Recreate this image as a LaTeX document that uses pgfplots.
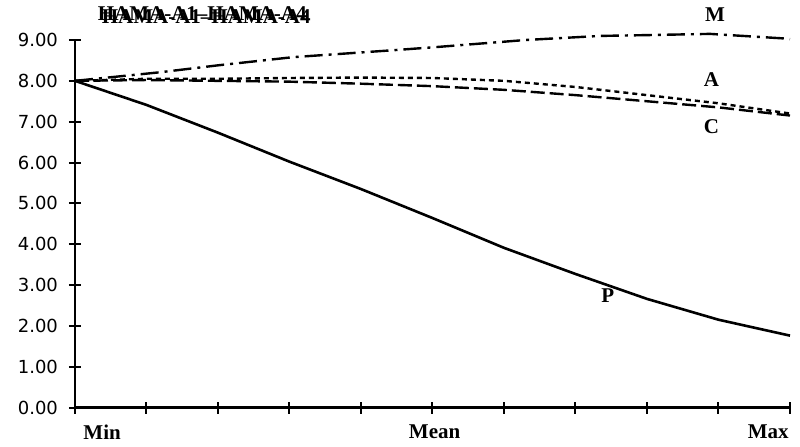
\documentclass[border=0pt]{standalone}
\usepackage{fontspec}
\setmainfont{Liberation Serif}
\newfontfamily\tickfont{DejaVu Sans}
\usepackage{pgfplots}
\pgfplotsset{compat=1.18}

\begin{document}
\begin{tikzpicture}
\begin{axis}[
  scale only axis,
  width=357.5pt, height=183.75pt,
  xmin=0, xmax=10, ymin=0, ymax=9,
  axis x line=bottom, axis y line=left,
  axis line style={-, line width=1.4pt},
  clip=false,
  xtick={0,1,...,10}, xticklabels={},
  ytick={0,1,...,9},
  tick align=center,
  major tick length=6pt,
  tick style={black, line width=1pt},
  /pgf/number format/assume math mode=true,
  yticklabel={\pgfmathprintnumber[fixed,fixed zerofill,precision=2]{\tick}},
  yticklabel style={font=\tickfont\fontsize{9}{10}\selectfont, anchor=east, xshift=-2pt},
]
\coordinate (o) at (axis cs:0,0);
% P
\addplot[black, line width=1.3pt] coordinates {
  (0,8.00)(1,7.41)(2,6.73)(3,6.02)(4,5.35)(5,4.64)
  (6,3.91)(7,3.27)(8,2.66)(9,2.15)(10,1.76)
};
% M
\addplot[black, line width=1.2pt, dash pattern=on 9pt off 3pt on 1.5pt off 3pt] coordinates {
  (0,8.00)(1.19,8.21)(2,8.38)(3.05,8.58)(4.45,8.75)(5,8.82)(6.3,9.00)
  (7.34,9.10)(8.0,9.12)(8.88,9.15)(9.9,9.04)(10,9.02)
};
% A
\addplot[black, line width=1.2pt, dash pattern=on 2.5pt off 2pt] coordinates {
  (0,8.00)(1,8.05)(2,8.05)(3,8.07)(4,8.08)(5,8.07)(6,8.00)
  (7,7.85)(8,7.65)(9,7.45)(10,7.20)
};
% C
\addplot[black, line width=1.2pt, dash pattern=on 7pt off 2.5pt] coordinates {
  (0,8.00)(1,8.02)(2,8.00)(3,7.98)(4,7.93)(5,7.87)(6,7.78)
  (7,7.65)(8,7.50)(9,7.35)(10,7.15)
};
\node[font=\bfseries\fontsize{10.5}{12}\selectfont] at (axis cs:8.95,9.62) {M};
\node[font=\bfseries\fontsize{10.5}{12}\selectfont] at (axis cs:8.9,8.03) {A};
\node[font=\bfseries\fontsize{10.5}{12}\selectfont] at (axis cs:8.9,6.88) {C};
\node[font=\bfseries\fontsize{10.5}{12}\selectfont] at (axis cs:7.45,2.73) {P};
\node[font=\bfseries\fontsize{10.5}{12}\selectfont, anchor=west] at (axis cs:0.02,-0.6) {Min};
\node[font=\bfseries\fontsize{10.5}{12}\selectfont] at (axis cs:5.03,-0.6) {Mean};
\node[font=\bfseries\fontsize{10.5}{12}\selectfont, anchor=east] at (axis cs:10.08,-0.6) {Max};
% overprinted title
\node[font=\bfseries\fontsize{10.5}{12}\selectfont, anchor=west] at (axis cs:0.22,9.64) {HAMA-A1--HAMA-A4};
\node[font=\bfseries\fontsize{10.5}{12}\selectfont, anchor=west, xshift=2pt, yshift=-1.5pt] at (axis cs:0.22,9.64) {HAMA-A1--HAMA-A4};
\end{axis}
\path ([shift={(-37.5pt,-19.25pt)}]o) rectangle ([shift={(362.5pt,203.75pt)}]o);
\end{tikzpicture}
\end{document}
